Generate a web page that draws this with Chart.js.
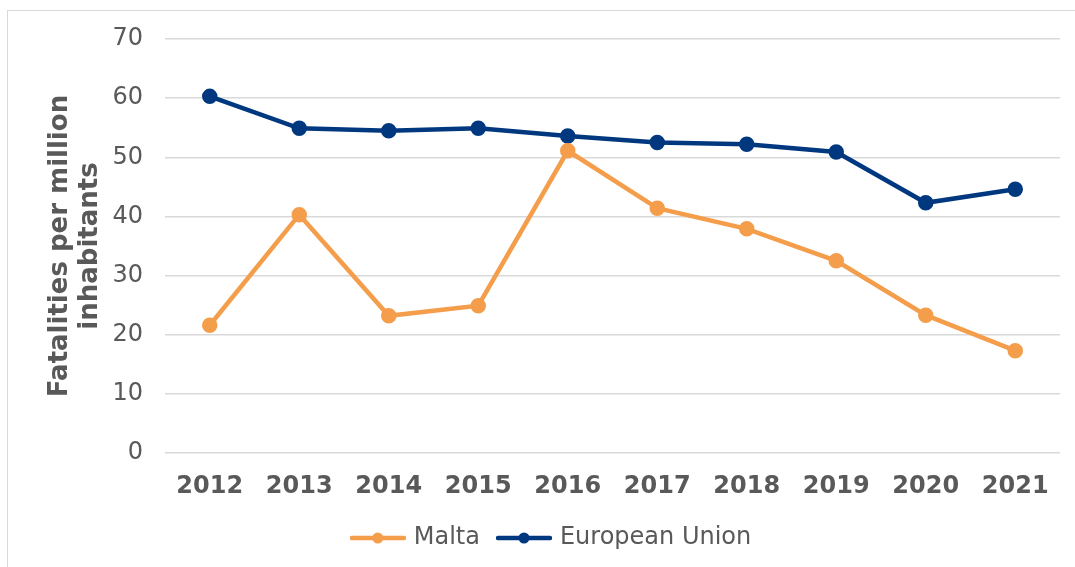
<!DOCTYPE html>
<html>
<head>
<meta charset="utf-8">
<script src="https://cdn.jsdelivr.net/npm/chart.js@4"></script>
<style>
  body { margin: 0; background: #fff; }
  .marc { position: absolute; left: 7px; top: 10px; width: 1100px; height: 600px; border: 1px solid #d9d9d9; }
  .contenidor { position: absolute; left: 0; top: 0; width: 1075px; height: 567px; }
</style>
</head>
<body>
<div class="marc"></div>
<div class="contenidor"><canvas id="myChart" width="1075" height="567"></canvas></div>
<script>
const anys = ['2012', '2013', '2014', '2015', '2016', '2017', '2018', '2019', '2020', '2021'];
const malta = [21.6, 40.3, 23.2, 24.9, 51.1, 41.4, 37.9, 32.5, 23.3, 17.3];
const unioEuropea = [60.3, 54.9, 54.5, 54.9, 53.6, 52.5, 52.2, 50.9, 42.3, 44.6];
const titolY = ['Fatalities per million', 'inhabitants'];

const taronja = '#F49D4B';
const blauFosc = '#00387F';
const gris = '#595959';

// marca de llegenda: línia amb un punt al mig
const marcaLlegenda = (color) => {
  const c = document.createElement('canvas');
  c.width = 56;
  c.height = 14;
  const g = c.getContext('2d');
  g.strokeStyle = color;
  g.fillStyle = color;
  g.lineWidth = 4.5;
  g.lineCap = 'round';
  g.beginPath();
  g.moveTo(2, 7);
  g.lineTo(54, 7);
  g.stroke();
  g.beginPath();
  g.arc(28, 7, 5.5, 0, Math.PI * 2);
  g.fill();
  return c;
};

const ctx = document.getElementById('myChart').getContext('2d');
const chart = new Chart(ctx, {
  type: 'line',
  data: {
    labels: anys,
    datasets: [{
      label: 'Malta',
      data: malta,
      borderColor: taronja,
      backgroundColor: taronja,
      borderWidth: 4.5,
      pointRadius: 5.5,
      pointHoverRadius: 5.5,
      tension: 0
    }, {
      label: 'European Union',
      data: unioEuropea,
      borderColor: blauFosc,
      backgroundColor: blauFosc,
      borderWidth: 4.5,
      pointRadius: 5.5,
      pointHoverRadius: 5.5,
      tension: 0
    }]
  },
  options: {
    responsive: false,
    animation: false,
    layout: { padding: { left: 45, right: 15, top: 39, bottom: 7 } },
    plugins: {
      tooltip: { enabled: false },
      legend: {
        position: 'bottom',
        labels: {
          usePointStyle: true,
          pointStyleWidth: 48,
          padding: 20,
          color: gris,
          font: { family: 'DejaVu Sans', size: 24 },
          generateLabels: (ch) => {
            const items = Chart.defaults.plugins.legend.labels.generateLabels(ch);
            items.forEach((it) => {
              it.pointStyle = marcaLlegenda(ch.data.datasets[it.datasetIndex].borderColor);
            });
            return items;
          }
        }
      }
    },
    scales: {
      x: {
        offset: true,
        grid: { display: false, offset: true },
        border: { display: false },
        ticks: {
          color: gris,
          padding: 11,
          maxRotation: 0,
          font: { family: 'DejaVu Sans', size: 24, weight: 'bold' }
        },
        afterFit: (scale) => { scale.height = 53; }
      },
      y: {
        min: 0,
        max: 70,
        grid: { color: '#d9d9d9', lineWidth: 1.5, drawTicks: false },
        border: { display: false },
        ticks: {
          stepSize: 10,
          color: gris,
          padding: 22,
          font: { family: 'DejaVu Sans', size: 24 }
        },
        title: {
          display: true,
          text: titolY,
          color: gris,
          padding: 0,
          font: { family: 'DejaVu Sans', size: 26, weight: 'bold', lineHeight: 1.15 }
        },
        afterFit: (scale) => { scale.width = 120; }
      }
    }
  }
});
</script>
</body>
</html>
